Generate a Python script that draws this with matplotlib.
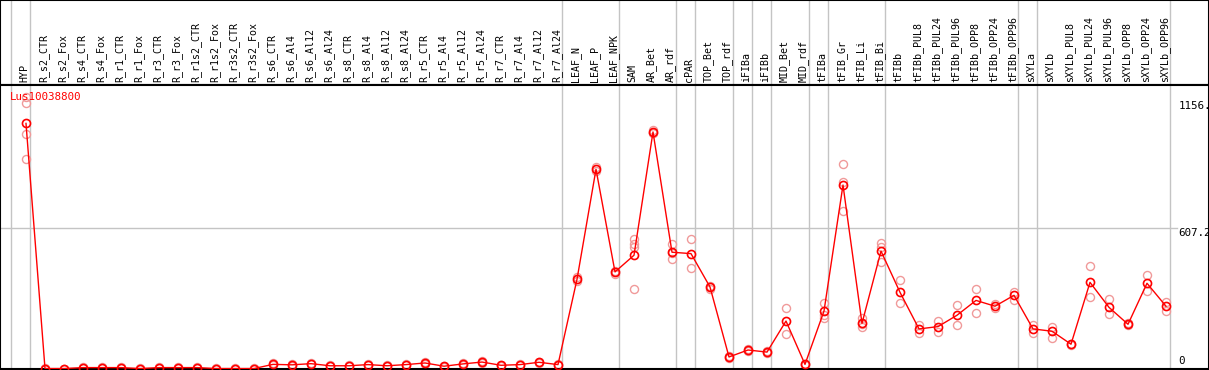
import matplotlib
matplotlib.use('Agg')
import matplotlib.pyplot as plt

# Sample labels (one per column)
samples = ['HYP',
           'R_s2_CTR', 'R_s2_Fox', 'R_s4_CTR', 'R_s4_Fox', 'R_r1_CTR', 'R_r1_Fox',
           'R_r3_CTR', 'R_r3_Fox', 'R_r1s2_CTR', 'R_r1s2_Fox', 'R_r3s2_CTR', 'R_r3s2_Fox',
           'R_s6_CTR', 'R_s6_Al4', 'R_s6_Al12', 'R_s6_Al24', 'R_s8_CTR', 'R_s8_Al4',
           'R_s8_Al12', 'R_s8_Al24', 'R_r5_CTR', 'R_r5_Al4', 'R_r5_Al12', 'R_r5_Al24',
           'R_r7_CTR', 'R_r7_Al4', 'R_r7_Al12', 'R_r7_Al24',
           'LEAF_N', 'LEAF_P', 'LEAF_NPK', 'SAM', 'AR_Bet', 'AR_rdf', 'cPAR',
           'TOP_Bet', 'TOP_rdf', 'iFIBa', 'iFIBb', 'MID_Bet', 'MID_rdf',
           'tFIBa', 'tFIB_Gr', 'tFIB_Li', 'tFIB_Bi', 'tFIBb',
           'tFIBb_PUL8', 'tFIBb_PUL24', 'tFIBb_PUL96', 'tFIBb_OPP8', 'tFIBb_OPP24', 'tFIBb_OPP96',
           'sXYLa', 'sXYLb',
           'sXYLb_PUL8', 'sXYLb_PUL24', 'sXYLb_PUL96', 'sXYLb_OPP8', 'sXYLb_OPP24', 'sXYLb_OPP96']

# Mean expression per sample
means = [1060,
         2, 2, 6, 6, 6, 2, 6, 6, 6, 2, 2, 2,
         20, 18, 23, 14, 14, 19, 14, 19, 26, 12, 22, 30, 16, 19, 29, 19,
         387, 862, 419, 491, 1023, 504, 498,
         354, 52, 82, 73, 207, 20,
         250, 794, 197, 509, 331,
         173, 183, 232, 296, 271, 318,
         173, 163,
         107, 374, 266, 193, 370, 271]

# Individual replicates per sample
replicates = [[1175, 1150, 1013, 905],
              [3, 1], [2, 1], [9, 4], [9, 4], [8, 4], [3, 1], [9, 4], [9, 4], [8, 4],
              [3, 1], [3, 1], [3, 1],
              [24, 17], [21, 15], [26, 20], [17, 11], [17, 11], [22, 16], [17, 11],
              [22, 16], [29, 23], [15, 9], [25, 19], [33, 27], [19, 13], [22, 16],
              [32, 26], [22, 16],
              [395, 380], [870, 855], [425, 412], [562, 540, 528, 345], [1030, 1020, 1018],
              [538, 502, 473], [561, 435],
              [360, 345], [56, 48], [86, 78], [77, 70], [262, 150], [23, 17],
              [286, 233, 219], [885, 807, 683], [219, 180, 194], [545, 528, 461], [383, 284],
              [190, 154], [209, 158], [275, 189], [347, 243], [279, 262], [334, 298],
              [189, 157], [183, 132],
              [110, 104], [443, 309], [301, 237], [190, 197], [406, 335], [290, 252]]

# Column index after which a group separator is drawn
group_ends = [-1, 0, 28, 31, 34, 35, 37, 38, 39, 41, 42, 45, 52, 53, 60]

gene = 'Lus10038800'
ymax_label = '1156.'
ymid_label = '607.2'
ymax_val = 1156
ymid_val = 607.2

W, H = 1209, 370
fig = plt.figure(figsize=(W / 100, H / 100), dpi=100)
mono = 'DejaVu Sans Mono'
grid_col = '#c4c4c4'

xlim = (-26 / 19, (W - 26) / 19)
x = list(range(len(samples)))

# header with the rotated sample names
hdr = fig.add_axes([0, 285 / H, 1, 85 / H])
hdr.set_xlim(*xlim)
hdr.set_ylim(0, 1)
hdr.set_xticks([])
hdr.set_yticks([])
for s in hdr.spines.values():
    s.set_linewidth(1.5)
    s.set_color('black')
for g in group_ends:
    hdr.axvline(g + 0.2, color=grid_col, lw=1)
for i, name in enumerate(samples):
    hdr.text(i - 0.08, 0.035, name, rotation=90, ha='center', va='bottom',
             fontsize=7.2, family=mono, color='black')

# plot area
ax = fig.add_axes([0, 1 / H, 1, 284 / H])
ax.set_xlim(*xlim)
ax.set_ylim(0, 284 * 4.316)
ax.set_xticks([])
ax.set_yticks([])
for s in ax.spines.values():
    s.set_linewidth(1.5)
    s.set_color('black')
for g in group_ends:
    ax.axvline(g + 0.2, color=grid_col, lw=1, zorder=1)
ax.plot([xlim[0], 60.6], [ymid_val, ymid_val], color=grid_col, lw=1, zorder=1)

for i, reps in enumerate(replicates):
    ax.plot([i] * len(reps), reps, 'o', ms=5.8, mfc='none', mec='#f09a9a',
            mew=1.0, zorder=2)

ax.plot(x, means, color='red', lw=1, zorder=3)
ax.plot(x, means, 'o', ms=5.8, mfc='none', mec='red', mew=1.2, zorder=4)

ax.text(-0.85, 1172, gene, color='red', fontsize=7.8, family=mono,
        ha='left', va='center', zorder=5)
ax.text(60.65, ymax_val, ymax_label, fontsize=7.8, family=mono, ha='left', va='top')
ax.text(60.65, ymid_val, ymid_label, fontsize=7.8, family=mono, ha='left', va='top')
ax.text(60.65, 12, '0', fontsize=7.8, family=mono, ha='left', va='bottom')

fig.savefig('out.png', dpi=100)
